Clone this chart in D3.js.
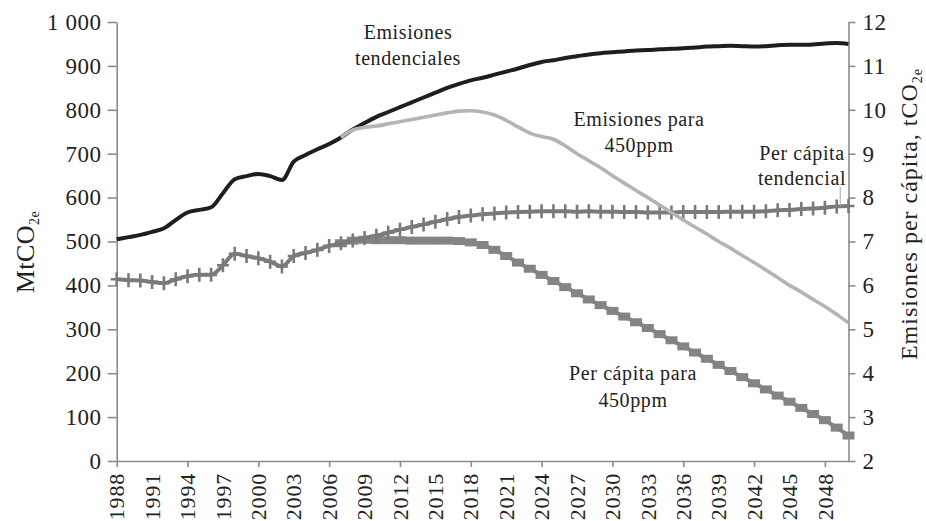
<!DOCTYPE html>
<html><head><meta charset="utf-8">
<script src="https://cdn.jsdelivr.net/npm/d3@7"></script>
<style>
body{margin:0;background:#fff}
svg{display:block}
text{font-family:"Liberation Serif",serif;fill:#222}
</style>
</head><body>
<svg id="c" width="926" height="521"></svg>
<script>
const years = [1988,1989,1990,1991,1992,1993,1994,1995,1996,1997,1998,1999,2000,2001,2002,2003,2004,2005,2006,2007,2008,2009,2010,2011,2012,2013,2014,2015,2016,2017,2018,2019,2020,2021,2022,2023,2024,2025,2026,2027,2028,2029,2030,2031,2032,2033,2034,2035,2036,2037,2038,2039,2040,2041,2042,2043,2044,2045,2046,2047,2048,2049,2050];

// MtCO2e (left axis)
const emisionesTendenciales = [505,510,515,522,530,549,566,572,578,610,642,649,654,649,640,682,697,710,722,737,755,770,784,795,806,817,828,839,850,859,867,873,880,887,894,902,909,913,918,922,926,929,931,933,935,936,938,939,940,942,944,945,946,945,944,945,947,948,948,949,951,952,950];
const emisiones450 = [null,null,null,null,null,null,null,null,null,null,null,null,null,null,null,null,null,null,null,737,754,760,763,768,773,778,783,788,793,797,798,795,788,776,761,747,739,733,718,700,684,668,650,633,616,600,583,566,549,533,517,500,485,468,452,435,418,400,385,368,352,334,315];

// tCO2e per cápita (right axis)
const perCapitaTendencial = [6.14,6.12,6.11,6.08,6.05,6.14,6.21,6.24,6.24,6.46,6.72,6.67,6.62,6.54,6.43,6.67,6.74,6.81,6.90,6.96,7.02,7.08,7.13,7.20,7.27,7.33,7.39,7.45,7.51,7.56,7.59,7.62,7.64,7.66,7.67,7.68,7.69,7.69,7.69,7.68,7.69,7.68,7.68,7.67,7.67,7.66,7.66,7.66,7.67,7.67,7.67,7.67,7.68,7.68,7.68,7.69,7.71,7.72,7.74,7.75,7.77,7.80,7.81];
const perCapita450 = [null,null,null,null,null,null,null,null,null,null,null,null,null,null,null,null,null,null,null,6.96,7.02,7.04,7.03,7.03,7.03,7.02,7.02,7.02,7.02,7.01,6.98,6.92,6.81,6.67,6.52,6.38,6.24,6.10,5.96,5.82,5.68,5.55,5.42,5.29,5.16,5.03,4.89,4.75,4.61,4.47,4.33,4.19,4.05,3.91,3.77,3.63,3.49,3.35,3.21,3.07,2.93,2.76,2.58];

const leftTicks = [0,100,200,300,400,500,600,700,800,900,1000];
const leftTickLabels = ["0","100","200","300","400","500","600","700","800","900","1 000"];
const rightTicks = [2,3,4,5,6,7,8,9,10,11,12];
const xLabelYears = [1988,1991,1994,1997,2000,2003,2006,2009,2012,2015,2018,2021,2024,2027,2030,2033,2036,2039,2042,2045,2048];
const xTickYears = [1988,1994,2000,2006,2012,2018,2024,2030,2036,2042,2048];

const svg = d3.select("#c");
const x = d3.scaleLinear().domain([1988, 2050]).range([116.7, 848.5]);
const yL = d3.scaleLinear().domain([0, 1000]).range([461, 22]);
const yR = d3.scaleLinear().domain([2, 12]).range([461, 22]);
const axisColor = "#8c8c8c";

function styleAxis(g, fs, ls) {
  g.attr("font-family", "Liberation Serif").attr("font-size", fs);
  g.select(".domain").attr("stroke", axisColor).attr("stroke-width", 1.6);
  g.selectAll(".tick line").attr("stroke", axisColor).attr("stroke-width", 1.6);
  g.selectAll(".tick text").attr("fill", "#222").attr("letter-spacing", ls);
}

// bottom axis
const gB = svg.append("g").attr("transform", "translate(0,461)")
  .call(d3.axisBottom(x).tickValues(xTickYears).tickSize(6).tickSizeOuter(0).tickFormat(""));
styleAxis(gB, 22, 0);
svg.append("g").selectAll("text").data(xLabelYears).join("text")
  .attr("transform", d => `translate(${x(d)},473) rotate(-90)`)
  .attr("text-anchor", "end").attr("dy", "0.35em")
  .attr("font-size", 22).attr("letter-spacing", 0.8)
  .text(d => String(d));

// left axis
const gL = svg.append("g").attr("transform", "translate(116.7,0)")
  .call(d3.axisLeft(yL).tickValues(leftTicks).tickSize(9).tickPadding(6).tickSizeOuter(0)
    .tickFormat((d, i) => leftTickLabels[i]));
styleAxis(gL, 23, 0.6);

// right axis
const gR = svg.append("g").attr("transform", "translate(848.5,0)")
  .call(d3.axisRight(yR).tickValues(rightTicks).tickSize(7).tickPadding(7).tickSizeOuter(0));
styleAxis(gR, 23, 0.6);

// axis titles
const tL = svg.append("text").attr("transform", "translate(34,252) rotate(-90)")
  .attr("text-anchor", "middle").attr("font-size", 26).attr("letter-spacing", 0.5);
tL.append("tspan").text("MtCO");
tL.append("tspan").attr("font-size", 14).attr("dy", 5).text("2e");

const tR = svg.append("text").attr("transform", "translate(917,214) rotate(-90)")
  .attr("text-anchor", "middle").attr("font-size", 24).attr("letter-spacing", 1);
tR.append("tspan").text("Emisiones per cápita, tCO");
tR.append("tspan").attr("font-size", 14).attr("dy", 5).text("2e");

// series
const rows = years.map((yr, i) => ({
  yr, et: emisionesTendenciales[i], e450: emisiones450[i],
  pt: perCapitaTendencial[i], p450: perCapita450[i]
}));

const lineOf = (key, scale) => d3.line()
  .defined(d => d[key] != null)
  .x(d => x(d.yr)).y(d => scale(d[key]))
  .curve(d3.curveMonotoneX);

// per cápita 450ppm
svg.append("path").datum(rows).attr("fill", "none")
  .attr("stroke", "#848484").attr("stroke-width", 4).attr("d", lineOf("p450", yR));
svg.append("g").selectAll("rect").data(rows.filter(d => d.p450 != null)).join("rect")
  .attr("x", d => x(d.yr) - 6).attr("y", d => yR(d.p450) - 4)
  .attr("width", 12).attr("height", 8).attr("fill", "#848484");

// per cápita tendencial
svg.append("path").datum(rows).attr("fill", "none")
  .attr("stroke", "#7a7a7a").attr("stroke-width", 4).attr("d", lineOf("pt", yR));
svg.append("g").selectAll("path").data(rows).join("path")
  .attr("transform", d => `translate(${x(d.yr)},${yR(d.pt)})`)
  .attr("d", "M-6,0H6M0,-7V7")
  .attr("stroke", "#7a7a7a").attr("stroke-width", 2.6).attr("fill", "none");

// emisiones tendenciales
svg.append("path").datum(rows).attr("fill", "none")
  .attr("stroke", "#1e1e1e").attr("stroke-width", 4).attr("d", lineOf("et", yL));

// emisiones 450ppm
svg.append("path").datum(rows).attr("fill", "none")
  .attr("stroke", "#b4b4b4").attr("stroke-width", 3.6).attr("d", lineOf("e450", yL));

// annotations
function label(lines, cx, y0, lh) {
  const t = svg.append("text").attr("text-anchor", "middle").attr("font-size", 20)
    .attr("letter-spacing", 0.6).attr("fill", "#1a1a1a");
  lines.forEach((s, i) => t.append("tspan").attr("x", cx).attr("y", y0 + i * lh).text(s));
}
label(["Emisiones", "tendenciales"], 408, 39, 26);
label(["Emisiones para", "450ppm"], 639, 126, 26);
label(["Per cápita", "tendencial"], 802, 160, 25);
label(["Per cápita para", "450ppm"], 633, 380, 27);

svg.append("line").attr("x1", x(2049.3)).attr("x2", x(2049.3))
  .attr("y1", 187).attr("y2", yR(7.8))
  .attr("stroke", "#aaa").attr("stroke-width", 1);
</script>
</body></html>
